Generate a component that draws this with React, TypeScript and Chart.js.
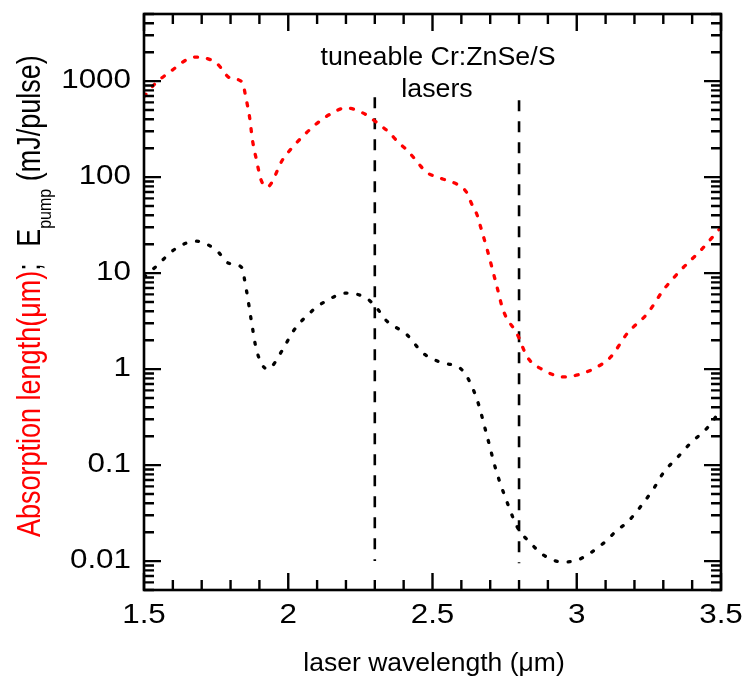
import React, { useEffect, useRef } from 'react';
import { Chart, registerables } from 'chart.js';

Chart.register(...registerables);

// Wavelength (µm) and values for the red curve (absorption length, µm)
const redX = [1.5, 1.54, 1.598, 1.646, 1.68, 1.75, 1.8, 1.84, 1.855, 1.866, 1.876, 1.89, 1.906, 1.927, 1.98, 2.015, 2.085, 2.14, 2.2, 2.26, 2.305, 2.352, 2.38, 2.415, 2.45, 2.48, 2.516, 2.557, 2.589, 2.62, 2.634, 2.655, 2.665, 2.69, 2.724, 2.745, 2.794, 2.829, 2.884, 2.954, 3.003, 3.07, 3.117, 3.176, 3.246, 3.3, 3.36, 3.43, 3.5];
const redY = [690, 950, 1300, 1660, 1780, 1550, 1070, 980, 630, 420, 243, 150, 93, 79, 151, 205, 333, 443, 525, 464, 374, 287, 232, 187, 140, 112, 100, 91, 83, 68, 54, 40, 31.6, 17.4, 7.1, 4.1, 2.3, 1.33, 0.98, 0.83, 0.87, 1.05, 1.33, 2.37, 3.83, 6.65, 10.7, 17.3, 30];

// Black curve (pump energy, mJ/pulse)
const blackX = [1.5, 1.54, 1.61, 1.68, 1.75, 1.796, 1.837, 1.855, 1.872, 1.89, 1.928, 1.98, 2.015, 2.085, 2.14, 2.2, 2.27, 2.305, 2.34, 2.41, 2.467, 2.526, 2.596, 2.62, 2.655, 2.69, 2.72, 2.76, 2.794, 2.84, 2.884, 2.95, 3.0, 3.093, 3.14, 3.176, 3.23, 3.27, 3.3, 3.35, 3.395, 3.455, 3.5];
const blackY = [9.1, 11.6, 18, 21.5, 17.4, 12.6, 11.6, 6.65, 3.2, 1.58, 1.0, 1.58, 2.43, 4.1, 5.3, 6.2, 5.5, 4.4, 3.2, 2.3, 1.47, 1.18, 1.02, 0.83, 0.475, 0.196, 0.089, 0.04, 0.0226, 0.0154, 0.0116, 0.0098, 0.0102, 0.0154, 0.021, 0.0255, 0.04, 0.059, 0.083, 0.121, 0.17, 0.249, 0.38];

// Tuneable laser range markers
const markerX = [2.3, 2.8];
const markerTop = [680, 630];
const markerBottom = [0.01, 0.0095];

const xTicks = [1.5, 2, 2.5, 3, 3.5];
const xTickLabels = ['1.5', '2', '2.5', '3', '3.5'];
const yTicks = [0.01, 0.1, 1, 10, 100, 1000];
const yTickLabels = ['0.01', '0.1', '1', '10', '100', '1000'];

const X_MIN = 1.5;
const X_MAX = 3.5;
const Y_MIN = 0.005;
const Y_MAX = 5000;

const FONT = '"Liberation Sans", Arial, Helvetica, sans-serif';

function stretchedText(ctx: CanvasRenderingContext2D, text: string, x: number, y: number, size: number, sx: number, align: CanvasTextAlign, baseline: CanvasTextBaseline, color = '#000') {
  ctx.save();
  ctx.translate(x, y);
  ctx.scale(sx, 1);
  ctx.font = `${size}px ${FONT}`;
  ctx.fillStyle = color;
  ctx.textAlign = align;
  ctx.textBaseline = baseline;
  ctx.fillText(text, 0, 0);
  ctx.restore();
}

const framePlugin = {
  id: 'framePlugin',
  afterDraw(chart: any) {
    const { ctx, chartArea: a, scales } = chart;
    const xs = scales.x;
    const ys = scales.y;
    ctx.save();
    ctx.strokeStyle = '#000';
    ctx.lineWidth = 2.6;
    ctx.lineCap = 'butt';
    ctx.strokeRect(a.left, a.top, a.right - a.left, a.bottom - a.top);

    ctx.lineWidth = 2.4;
    ctx.beginPath();
    for (let i = 15; i <= 35; i++) {
      const px = xs.getPixelForValue(i / 10);
      const len = i % 5 === 0 ? 17 : 10;
      ctx.moveTo(px, a.bottom);
      ctx.lineTo(px, a.bottom - len);
      ctx.moveTo(px, a.top);
      ctx.lineTo(px, a.top + len);
    }
    for (let e = -3; e <= 3; e++) {
      for (let m = 1; m <= 9; m++) {
        const v = m * Math.pow(10, e);
        if (v < Y_MIN * 0.999 || v > Y_MAX * 1.001) continue;
        const py = ys.getPixelForValue(v);
        const len = m === 1 ? 17 : 10;
        ctx.moveTo(a.left, py);
        ctx.lineTo(a.left + len, py);
        ctx.moveTo(a.right, py);
        ctx.lineTo(a.right - len, py);
      }
    }
    ctx.stroke();

    // tick labels
    xTicks.forEach((v, i) => {
      stretchedText(ctx, xTickLabels[i], xs.getPixelForValue(v), 623, 28, 1.12, 'center', 'alphabetic');
    });
    yTicks.forEach((v, i) => {
      stretchedText(ctx, yTickLabels[i], 131, ys.getPixelForValue(v) - 1, 28, 1.12, 'right', 'middle');
    });

    // x axis title
    stretchedText(ctx, 'laser wavelength (\u03bcm)', 434, 671, 26, 1.02, 'center', 'alphabetic');

    // annotation
    stretchedText(ctx, 'tuneable Cr:ZnSe/S', 438, 65, 25, 1.07, 'center', 'alphabetic');
    stretchedText(ctx, 'lasers', 437, 97, 25, 1.07, 'center', 'alphabetic');

    // y axis title (rotated, multi-colour, with subscript)
    ctx.save();
    ctx.translate(40, 537);
    ctx.rotate(-Math.PI / 2);
    const sy = 1.2;
    ctx.scale(1, sy);
    ctx.textAlign = 'left';
    ctx.textBaseline = 'alphabetic';
    let pos = 0;
    const seg = (text: string, size: number, color: string, dy = 0) => {
      ctx.font = `${size}px ${FONT}`;
      ctx.fillStyle = color;
      ctx.fillText(text, pos, dy / sy);
      pos += ctx.measureText(text).width;
    };
    seg('Absorption length(\u03bcm)', 27, '#ff0000');
    seg('; ', 27, '#000');
    pos += 9;
    seg('E', 27, '#000');
    seg('pump', 16, '#000', 11);
    seg(' (mJ/pulse)', 27, '#000');
    ctx.restore();

    ctx.restore();
  },
};

export default function App() {
  const canvasRef = useRef<HTMLCanvasElement | null>(null);

  useEffect(() => {
    if (!canvasRef.current) return;
    const redData = redX.map((x, i) => ({ x, y: redY[i] }));
    const blackData = blackX.map((x, i) => ({ x, y: blackY[i] }));
    const markerSets = markerX.map((x, i) => ({
      data: [{ x, y: markerTop[i] }, { x, y: markerBottom[i] }],
      borderColor: '#000',
      borderWidth: 2.6,
      borderDash: [11, 10],
      pointRadius: 0,
      tension: 0,
      fill: false,
    }));

    const chart = new Chart(canvasRef.current, {
      type: 'line',
      data: {
        datasets: [
          {
            data: redData,
            borderColor: '#ff0000',
            borderWidth: 3.3,
            borderDash: [3, 10],
            borderCapStyle: 'round',
            pointRadius: 0,
            cubicInterpolationMode: 'monotone',
            fill: false,
          },
          {
            data: blackData,
            borderColor: '#000',
            borderWidth: 3.3,
            borderDash: [2, 11],
            borderCapStyle: 'round',
            pointRadius: 0,
            cubicInterpolationMode: 'monotone',
            fill: false,
          },
          ...markerSets,
        ] as any,
      },
      options: {
        animation: false,
        responsive: true,
        maintainAspectRatio: false,
        layout: { padding: { left: 144, right: 26, top: 14, bottom: 87 } },
        plugins: { legend: { display: false }, tooltip: { enabled: false } },
        scales: {
          x: { type: 'linear', min: X_MIN, max: X_MAX, display: false },
          y: { type: 'logarithmic', min: Y_MIN, max: Y_MAX, display: false },
        },
      },
      plugins: [framePlugin],
    });
    return () => chart.destroy();
  }, []);

  return (
    <div style={{ position: 'fixed', left: 0, top: 0, width: 747, height: 677, background: '#fff' }}>
      <canvas ref={canvasRef} />
    </div>
  );
}
